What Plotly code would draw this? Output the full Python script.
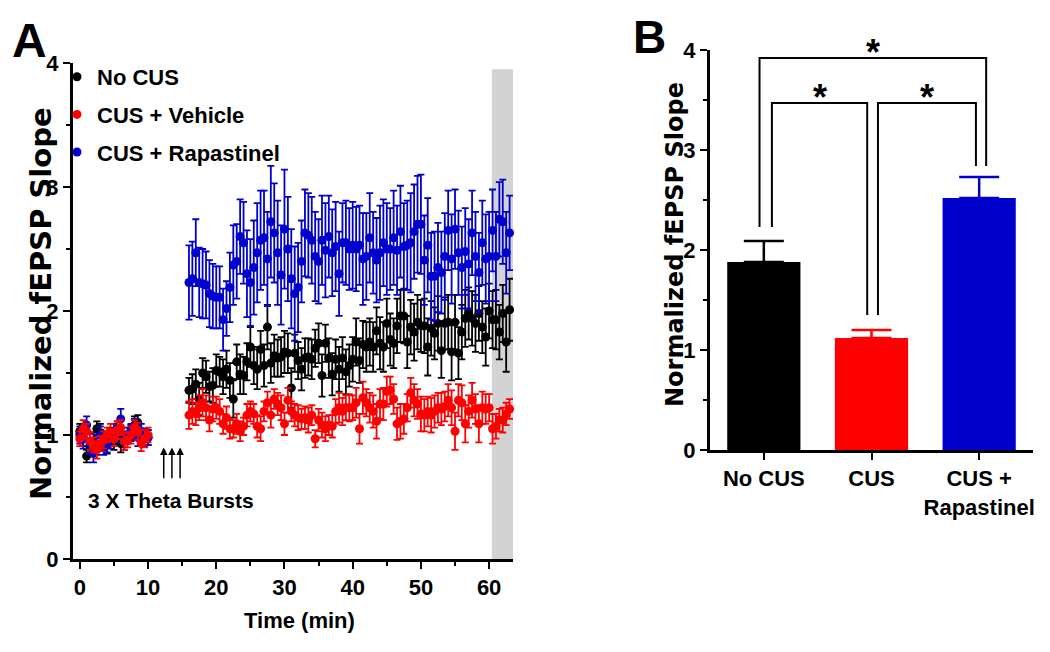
import numpy as np
import plotly.graph_objects as go

W, H = 1050, 652
OFF = 8  # page body margin in the browser (px)
NARROW = "Liberation Sans, Arial, sans-serif"
WIDE = "DejaVu Sans, Liberation Sans, sans-serif"

BLACK, RED, BLUE = "#000000", "#ff0000", "#0000cc"


def px(x):
    return (x - OFF) / W


def py(y):
    return 1 - (y - OFF) / H


# ---------------- Panel A data (time course, 30 s sampling) ----------------
SAMPLE_INTERVAL = 0.5  # min
baseline_time = np.arange(0, 10 + 1e-9, SAMPLE_INTERVAL)      # 0 .. 10 min
post_time = np.arange(16, 63 + 1e-9, SAMPLE_INTERVAL)         # 16 .. 63 min

series_names = ["No CUS", "CUS + Vehicle", "CUS + Rapastinel"]

no_cus_base = [1.03, 0.98, 0.83, 0.90, 0.95, 1.05, 1.02, 0.97, 0.92, 1.00, 0.95,
               1.05, 0.93, 0.96, 0.98, 1.02, 1.08, 1.10, 0.97, 1.00, 0.98]
no_cus_base_err = [0.06, 0.07, 0.05, 0.06, 0.07, 0.06, 0.07, 0.06, 0.07, 0.06, 0.07,
                   0.06, 0.07, 0.06, 0.05, 0.06, 0.07, 0.06, 0.06, 0.05, 0.06]
no_cus_post = [1.36, 1.37, 1.41, 1.29, 1.50, 1.47, 1.39, 1.40, 1.52, 1.51,
               1.47, 1.53, 1.44, 1.29, 1.59, 1.49, 1.48, 1.59, 1.71, 1.56,
               1.53, 1.69, 1.56, 1.87, 1.58, 1.64, 1.62, 1.63, 1.67, 1.66,
               1.38, 1.66, 1.60, 1.53, 1.62, 1.63, 1.61, 1.70, 1.74, 1.48,
               1.74, 1.62, 1.49, 1.61, 1.53, 1.62, 1.51, 1.56, 1.61, 1.75,
               1.60, 1.73, 1.71, 1.75, 1.71, 1.84, 1.74, 1.71, 1.90, 1.77,
               1.74, 1.88, 1.96, 1.96, 1.75, 1.87, 1.83, 1.91, 1.88, 1.88,
               1.71, 1.86, 1.82, 1.90, 1.68, 1.90, 1.91, 1.67, 1.91, 1.66,
               1.83, 1.94, 1.98, 1.94, 1.90, 1.98, 1.87, 1.79, 2.00, 1.93,
               1.93, 1.83, 1.98, 1.75, 2.01]
no_cus_post_err = [0.10, 0.12, 0.12, 0.13, 0.12, 0.13, 0.12, 0.14, 0.13, 0.12,
                   0.14, 0.15, 0.14, 0.15, 0.14, 0.16, 0.15, 0.15, 0.16, 0.15,
                   0.16, 0.15, 0.17, 0.18, 0.16, 0.17, 0.15, 0.16, 0.17, 0.16,
                   0.16, 0.15, 0.15, 0.17, 0.16, 0.15, 0.16, 0.15, 0.16, 0.17,
                   0.15, 0.16, 0.17, 0.16, 0.18, 0.17, 0.18, 0.17, 0.18, 0.19,
                   0.18, 0.19, 0.20, 0.19, 0.20, 0.19, 0.21, 0.20, 0.20, 0.21,
                   0.20, 0.22, 0.21, 0.22, 0.21, 0.22, 0.23, 0.22, 0.21, 0.22,
                   0.23, 0.22, 0.21, 0.22, 0.22, 0.21, 0.22, 0.23, 0.22, 0.21,
                   0.22, 0.23, 0.21, 0.22, 0.23, 0.22, 0.21, 0.23, 0.22, 0.23,
                   0.24, 0.22, 0.23, 0.24, 0.25]

veh_base = [0.97, 1.05, 1.03, 0.95, 0.92, 0.88, 0.93, 0.96, 1.00, 1.02, 0.97,
            1.04, 1.06, 0.95, 0.96, 1.00, 1.06, 1.03, 0.93, 0.97, 1.00]
veh_base_err = [0.06, 0.07, 0.06, 0.07, 0.06, 0.07, 0.06, 0.07, 0.06, 0.07, 0.06,
                0.07, 0.06, 0.07, 0.06, 0.07, 0.06, 0.07, 0.06, 0.07, 0.06]
veh_post = [1.16, 1.19, 1.17, 1.22, 1.26, 1.22, 1.12, 1.21, 1.22, 1.19,
            1.09, 1.14, 1.05, 1.05, 1.09, 1.03, 1.07, 1.16, 1.19, 1.17,
            1.07, 1.05, 1.19, 1.26, 1.16, 1.29, 1.25, 1.22, 1.09, 1.28,
            1.19, 1.16, 1.14, 1.13, 1.14, 1.12, 1.16, 0.97, 1.12, 1.08,
            1.05, 1.08, 1.07, 1.19, 1.22, 1.19, 1.22, 1.22, 1.22, 1.26,
            1.05, 1.30, 1.26, 1.22, 1.19, 1.11, 1.25, 1.25, 1.35, 1.36,
            1.29, 1.09, 1.11, 1.13, 1.22, 1.34, 1.28, 1.25, 1.17, 1.16,
            1.19, 1.16, 1.19, 1.22, 1.21, 1.23, 1.28, 1.22, 1.03, 1.28,
            1.26, 1.09, 1.19, 1.28, 1.21, 1.09, 1.22, 1.21, 1.22, 1.05,
            1.07, 1.12, 1.12, 1.17, 1.21]
veh_post_err = [0.11, 0.10, 0.09, 0.10, 0.11, 0.10, 0.09, 0.10, 0.09, 0.10,
                0.08, 0.09, 0.08, 0.07, 0.08, 0.08, 0.07, 0.09, 0.08, 0.08,
                0.09, 0.10, 0.08, 0.09, 0.10, 0.08, 0.09, 0.10, 0.09, 0.10,
                0.08, 0.09, 0.10, 0.08, 0.09, 0.10, 0.08, 0.07, 0.09, 0.10,
                0.10, 0.08, 0.09, 0.10, 0.12, 0.11, 0.10, 0.11, 0.10, 0.12,
                0.12, 0.13, 0.11, 0.12, 0.13, 0.14, 0.12, 0.13, 0.12, 0.11,
                0.12, 0.13, 0.14, 0.12, 0.11, 0.12, 0.13, 0.12, 0.14, 0.13,
                0.12, 0.14, 0.13, 0.12, 0.13, 0.12, 0.13, 0.14, 0.15, 0.13,
                0.14, 0.15, 0.13, 0.14, 0.12, 0.15, 0.13, 0.12, 0.11, 0.12,
                0.10, 0.09, 0.10, 0.09, 0.08]

rap_base = [1.00, 0.97, 1.08, 0.93, 0.85, 0.92, 1.00, 0.90, 0.93, 0.97, 1.02,
            1.00, 1.13, 0.95, 1.00, 1.02, 1.05, 0.98, 1.03, 0.98, 0.98]
rap_base_err = [0.07, 0.08, 0.07, 0.08, 0.07, 0.08, 0.07, 0.06, 0.07, 0.08, 0.07,
                0.06, 0.08, 0.07, 0.06, 0.07, 0.08, 0.07, 0.06, 0.07, 0.06]
rap_post = [2.23, 2.26, 2.47, 2.23, 2.22, 2.21, 2.14, 2.12, 2.11, 2.11,
            1.93, 2.02, 2.19, 2.37, 2.40, 2.60, 2.55, 2.30, 2.23, 2.35,
            2.47, 2.57, 2.59, 2.42, 2.72, 2.63, 2.47, 2.29, 2.66, 2.50,
            2.26, 2.14, 2.19, 2.40, 2.63, 2.61, 2.57, 2.44, 2.40, 2.57,
            2.49, 2.60, 2.47, 2.52, 2.30, 2.55, 2.55, 2.50, 2.53, 2.50,
            2.53, 2.42, 2.44, 2.59, 2.47, 2.41, 2.47, 2.55, 2.50, 2.50,
            2.59, 2.49, 2.64, 2.52, 2.53, 2.55, 2.64, 2.70, 2.70, 2.41,
            2.53, 2.28, 2.28, 2.35, 2.31, 2.44, 2.65, 2.42, 2.66, 2.47,
            2.35, 2.48, 2.38, 2.63, 2.44, 2.31, 2.55, 2.42, 2.44, 2.65,
            2.44, 2.74, 2.72, 2.47, 2.63]
rap_post_err = [0.30, 0.30, 0.27, 0.28, 0.28, 0.27, 0.27, 0.26, 0.25, 0.25,
                0.25, 0.22, 0.28, 0.32, 0.30, 0.30, 0.33, 0.35, 0.35, 0.38,
                0.40, 0.40, 0.38, 0.38, 0.45, 0.40, 0.42, 0.40, 0.48, 0.42,
                0.40, 0.38, 0.36, 0.33, 0.35, 0.34, 0.35, 0.36, 0.34, 0.36,
                0.38, 0.33, 0.35, 0.36, 0.34, 0.32, 0.34, 0.33, 0.35, 0.34,
                0.32, 0.37, 0.35, 0.36, 0.33, 0.34, 0.38, 0.35, 0.37, 0.33,
                0.38, 0.36, 0.37, 0.35, 0.36, 0.40, 0.38, 0.39, 0.40, 0.36,
                0.38, 0.35, 0.36, 0.36, 0.33, 0.35, 0.32, 0.36, 0.32, 0.34,
                0.33, 0.35, 0.36, 0.34, 0.36, 0.32, 0.34, 0.36, 0.36, 0.33,
                0.36, 0.30, 0.34, 0.33, 0.30]

burst_times = [12.3, 13.5, 14.7]     # theta-burst arrows (min)
analysis_window = [60.4, 63.5]        # shaded window (min)

# ---------------- Panel B data ----------------
bar_categories = ["No CUS", "CUS", "CUS +<br>Rapastinel"]
bar_means = [1.88, 1.12, 2.52]
bar_sem = [0.21, 0.08, 0.21]
bar_colors = [BLACK, RED, BLUE]

fig = go.Figure()

# shaded window
fig.add_shape(type="rect", xref="x", yref="y", x0=analysis_window[0], x1=analysis_window[1],
              y0=0, y1=3.95, fillcolor="#d3d3d3", line_width=0, layer="below")

series = [
    (series_names[0], BLACK, no_cus_base + no_cus_post, no_cus_base_err + no_cus_post_err, 1),
    (series_names[2], BLUE, rap_base + rap_post, rap_base_err + rap_post_err, 3),
    (series_names[1], RED, veh_base + veh_post, veh_base_err + veh_post_err, 2),
]
t_all = np.concatenate([baseline_time, post_time])
for name, col, vals, errs, rank in series:
    fig.add_trace(go.Scatter(
        x=t_all, y=vals, mode="markers", name=name, legendrank=rank, legendgroup=name,
        marker=dict(color=col, size=9, line=dict(width=0)),
        error_y=dict(type="data", array=errs, color=col, thickness=1.8, width=3.5),
        cliponaxis=False, xaxis="x", yaxis="y",
    ))

# bars
for i, (cat, m, e, c) in enumerate(zip(bar_categories, bar_means, bar_sem, bar_colors)):
    fig.add_trace(go.Bar(
        x=[i], y=[m], width=0.68, marker=dict(color=c, line=dict(width=0)),
        error_y=dict(type="data", array=[e], arrayminus=[0], symmetric=False,
                     color=c, thickness=2.5, width=20),
        showlegend=False, xaxis="x2", yaxis="y2", name=cat.replace("<br>", " "),
    ))

# significance brackets
brackets = [
    # (x_left, y_left_bottom, x_right, y_right_bottom, y_top)
    (-0.04, 2.23, 2.065, 2.84, 3.92),
    (0.075, 2.23, 0.96, 1.35, 3.47),
    (1.06, 1.35, 1.97, 2.84, 3.47),
]
for xl, yl, xr, yr, yt in brackets:
    fig.add_shape(type="path", xref="x2", yref="y2",
                  path=f"M {xl},{yl} L {xl},{yt} L {xr},{yt} L {xr},{yr}",
                  line=dict(color="black", width=2))
    fig.add_annotation(xref="x2", yref="y2", x=(xl + xr) / 2, y=yt,
                       text="<b>*</b>", showarrow=False, yanchor="bottom",
                       font=dict(family=NARROW, size=36, color="black"), yshift=-17)

# theta-burst arrows
for bt in burst_times:
    fig.add_annotation(xref="x", yref="y", x=bt, y=0.9, ax=bt, ay=0.64,
                       axref="x", ayref="y", text="", showarrow=True,
                       arrowhead=2, arrowsize=1, arrowwidth=1.5, arrowcolor="black")

tick_font = dict(family=NARROW, size=22, color="black", weight="bold")
axis_common = dict(showline=True, linewidth=3, linecolor="black", showgrid=False, zeroline=False,
                   ticks="outside", ticklen=7, tickwidth=2, tickcolor="black")
minor_y = dict(dtick=0.5, ticklen=4, tickwidth=2, tickcolor="black", ticks="outside")

fig.update_layout(
    width=W, height=H, margin=dict(l=0, r=0, t=0, b=0, autoexpand=False),
    plot_bgcolor="white", paper_bgcolor="white", barmode="overlay",
    showlegend=True,
    legend=dict(x=px(57), y=py(56), xanchor="left", yanchor="top", tracegroupgap=6,
                bgcolor="rgba(0,0,0,0)", font=dict(family=NARROW, size=22, color="black", weight="bold")),
    xaxis=dict(domain=[px(73), px(513)], range=[-1, 63.5], anchor="y",
               tick0=0, dtick=10, minor=dict(dtick=5, ticklen=4, tickwidth=2, tickcolor="black", ticks="outside"),
               tickfont=tick_font, **axis_common),
    yaxis=dict(domain=[py(559), py(63)], range=[0, 4], anchor="x",
               tick0=0, dtick=1, minor=minor_y, tickfont=tick_font, **axis_common),
    xaxis2=dict(domain=[px(710), px(1033)], range=[-0.5, 2.5], anchor="y2",
                tickmode="array", tickvals=list(range(len(bar_categories))), ticktext=bar_categories,
                tickfont=dict(family=NARROW, size=22, color="black", weight="bold"), **axis_common),
    yaxis2=dict(domain=[py(450), py(50)], range=[0, 4], anchor="x2",
                tick0=0, dtick=1, minor=minor_y, tickfont=tick_font, **axis_common),
)


def label(text, x, y, size, family=NARROW, angle=0):
    fig.add_annotation(xref="paper", yref="paper", x=px(x), y=py(y), text=text,
                       showarrow=False, xanchor="center", yanchor="middle", textangle=angle,
                       font=dict(family=family, size=size, color="black", weight="bold"))


label("A", 29, 40, 48)
label("B", 649, 37, 46)
label("Normalized fEPSP Slope", 41, 304, 29, family=WIDE, angle=-90)
label("Normalized fEPSP Slope", 675, 245, 24, family=WIDE, angle=-90)
label("Time (min)", 299, 620, 22)
label("3 X Theta Bursts", 171, 500, 21)

fig.write_html("out.html")
